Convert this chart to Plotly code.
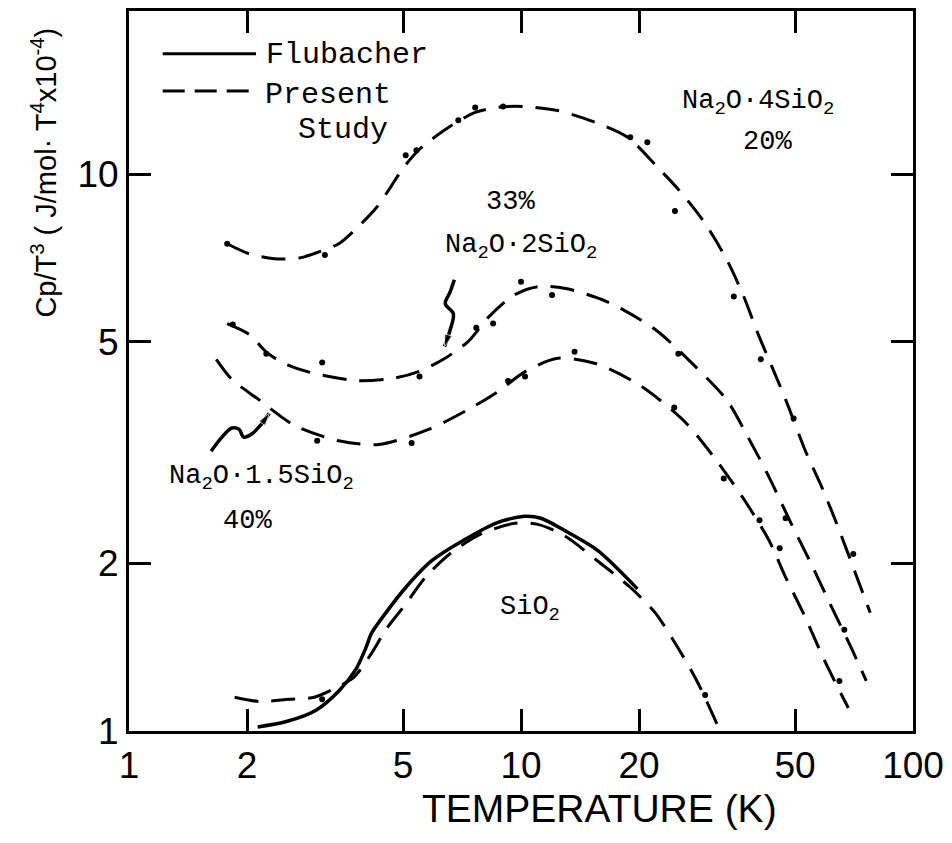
import plotly.graph_objects as go

# ---------------- data: T (K) vs Cp/T^3 (J/mol·K^4 x10^-4) ----------------
# Na2O·4SiO2 (20 %) present study
n4_T = [1.78, 2.03, 2.35, 2.72, 3.05, 3.43, 3.86, 4.29, 4.65, 5.02, 5.48, 5.87, 6.72, 7.64,
        8.74, 10.1, 12.4, 15.7, 18.7, 22.3, 25.3, 29.3, 33.5, 37.0, 40.0, 43.6, 47.3, 53.2,
        58.8, 64.9, 71.7, 77.8]
n4_V = [7.50, 7.19, 7.05, 7.07, 7.25, 7.50, 8.07, 8.73, 9.48, 10.29, 11.04, 11.50, 12.29, 12.91,
        13.18, 13.23, 13.01, 12.34, 11.65, 10.29, 9.36, 8.21, 7.02, 6.03, 5.22, 4.52, 3.94, 3.18,
        2.72, 2.29, 1.90, 1.63]

# Na2O·2SiO2 (33 %) present study
n2_T = [1.78, 2.03, 2.24, 2.49, 2.88, 3.79, 4.73, 5.48, 6.34, 7.34, 8.25, 9.54, 11.04, 13.01,
        16.6, 22.0, 27.7, 33.5, 37.7, 42.9, 49.0, 55.1, 61.5, 69.6, 76.0]
n2_V = [5.39, 5.15, 4.79, 4.57, 4.41, 4.26, 4.30, 4.42, 4.65, 5.01, 5.53, 6.05, 6.28, 6.23,
        5.90, 5.26, 4.53, 3.93, 3.40, 2.86, 2.35, 1.99, 1.69, 1.41, 1.23]

# Na2O·1.5SiO2 (40 %) present study
n15_T = [1.67, 1.83, 2.15, 2.64, 3.43, 4.34, 5.81, 7.34, 8.74, 10.24, 12.42, 15.5, 20.05,
         26.1, 31.1, 37.0, 42.9, 47.3, 52.9, 59.4, 68.4]
n15_V = [4.65, 4.28, 3.93, 3.54, 3.32, 3.27, 3.48, 3.78, 4.07, 4.42, 4.67, 4.57, 4.18,
         3.60, 3.10, 2.61, 2.20, 1.89, 1.61, 1.34, 1.10]

# SiO2 present study
si_T = [1.86, 2.15, 2.56, 2.97, 3.33, 3.75, 4.16, 4.52, 5.08, 5.71, 6.64, 7.91, 9.65, 11.04,
        12.93, 15.68, 19.02, 22.0, 25.0, 28.1, 31.6]
si_V = [1.15, 1.13, 1.14, 1.15, 1.19, 1.25, 1.38, 1.52, 1.69, 1.89, 2.09, 2.26, 2.36, 2.35,
        2.24, 2.02, 1.81, 1.63, 1.42, 1.23, 1.03]

# SiO2 Flubacher
fl_T = [2.13, 2.52, 3.00, 3.43, 3.79, 4.02, 4.16, 4.52, 5.08, 5.91, 7.21, 8.74, 10.24, 11.24,
        12.93, 15.68, 19.81]
fl_V = [1.017, 1.04, 1.09, 1.18, 1.29, 1.41, 1.50, 1.63, 1.81, 2.02, 2.21, 2.37, 2.43, 2.41,
        2.29, 2.11, 1.80]

# measured points (dots)
pt_T = [1.78, 3.16, 5.08, 5.41, 6.92, 7.64, 9.00, 19.0, 21.0, 24.7, 34.9, 40.9, 49.6, 70.4,
        1.84, 2.24, 3.11, 5.51, 7.69, 8.49, 10.0, 12.0, 25.2, 47.3, 66.8,
        3.02, 5.26, 9.27, 10.24, 13.7, 24.6, 32.9, 40.6, 45.7, 64.9,
        3.11, 29.5]
pt_V = [7.50, 7.16, 10.81, 11.04, 12.50, 13.18, 13.23, 11.65, 11.41, 8.59, 6.03, 4.65, 3.64, 2.08,
        5.37, 4.76, 4.59, 4.33, 5.30, 5.39, 6.41, 6.07, 4.76, 2.41, 1.52,
        3.32, 3.29, 4.25, 4.33, 4.80, 3.81, 2.84, 2.39, 2.13, 1.23,
        1.14, 1.16]

# hand-drawn pointer arrows
arr1_T = [6.76, 6.60, 6.41, 6.72, 6.60, 6.38]
arr1_V = [6.46, 6.15, 5.85, 5.62, 5.26, 4.90]
arr2_T = [1.62, 1.72, 1.83, 1.91, 1.96, 2.05, 2.18, 2.28]
arr2_V = [3.18, 3.36, 3.50, 3.48, 3.37, 3.41, 3.56, 3.72]

x_ticks = [1, 2, 5, 10, 20, 50, 100]
y_ticks = [1, 2, 5, 10]

AX_FONT = "Liberation Sans, Arial, sans-serif"
MONO = "Liberation Mono, DejaVu Sans Mono, monospace"
DASH = "24px,13px"

fig = go.Figure()


def curve(T, V, dash, width=3.0):
    fig.add_trace(go.Scatter(
        x=T, y=V, mode="lines",
        line=dict(color="black", width=width, dash=dash, shape="spline", smoothing=0.8),
        hoverinfo="skip", showlegend=False))


curve(fl_T, fl_V, "solid", 3.5)
curve(si_T, si_V, DASH)
curve(n15_T, n15_V, DASH)
curve(n2_T, n2_V, DASH)
curve(n4_T, n4_V, DASH)

fig.add_trace(go.Scatter(x=pt_T, y=pt_V, mode="markers",
                         marker=dict(color="black", size=6),
                         hoverinfo="skip", showlegend=False))

for T, V in ((arr1_T, arr1_V), (arr2_T, arr2_V)):
    n = len(T)
    fig.add_trace(go.Scatter(
        x=T, y=V, mode="lines+markers",
        line=dict(color="black", width=3.5, shape="spline", smoothing=1.0),
        marker=dict(color="black", symbol=["circle"] * (n - 1) + ["arrow"],
                    size=[0] * (n - 1) + [13], angleref="previous"),
        hoverinfo="skip", showlegend=False))

# legend lines (paper coordinates)
fig.add_shape(type="line", xref="paper", yref="paper", x0=0.043, x1=0.162, y0=0.9405, y1=0.9405,
              line=dict(color="black", width=3))
fig.add_shape(type="line", xref="paper", yref="paper", x0=0.043, x1=0.162, y0=0.889, y1=0.889,
              line=dict(color="black", width=3, dash="22px,10px"))


def label(text, x, y, size=27, xanchor="left"):
    fig.add_annotation(text=text, xref="paper", yref="paper", x=x, y=y, showarrow=False,
                       xanchor=xanchor, yanchor="middle",
                       font=dict(family=MONO, size=size, color="black"))


label("Flubacher", 0.1726, 0.939, 30)
label("Present", 0.1713, 0.884, 30)
label("Study", 0.2132, 0.835, 30)
label("Na<sub>2</sub>O·4SiO<sub>2</sub>", 0.703, 0.872)
label("20%", 0.8147, 0.8174, xanchor="center")
label("33%", 0.486, 0.7344, xanchor="center")
label("Na<sub>2</sub>O·2SiO<sub>2</sub>", 0.401, 0.672)
label("Na<sub>2</sub>O·1.5SiO<sub>2</sub>", 0.0482, 0.352)
label("40%", 0.151, 0.2918, xanchor="center")
label("SiO<sub>2</sub>", 0.4708, 0.170)

# axis titles
fig.add_annotation(text="TEMPERATURE (K)", xref="paper", yref="paper", x=0.6003, y=-0.108,
                   showarrow=False, xanchor="center", yanchor="middle",
                   font=dict(family=AX_FONT, size=39, color="black"))
fig.add_annotation(text="Cp/T<sup>3</sup> ( J/mol· T<sup>4</sup>x10<sup>-4</sup>)",
                   xref="paper", yref="paper", x=-0.108, y=0.776, textangle=-90,
                   showarrow=False, xanchor="center", yanchor="middle",
                   font=dict(family=AX_FONT, size=29, color="black"))

axis_common = dict(type="log", showgrid=False, zeroline=False, showline=True, linewidth=3,
                   linecolor="black", mirror="allticks", ticks="inside", ticklen=22,
                   tickwidth=2.5, tickcolor="black",
                   tickfont=dict(family=AX_FONT, size=37, color="black"))

fig.update_xaxes(range=[0, 2], tickvals=x_ticks, ticktext=[str(v) for v in x_ticks],
                 **axis_common)
fig.update_yaxes(range=[0, 1.293], tickvals=y_ticks, ticktext=[str(v) for v in y_ticks],
                 **axis_common)

fig.update_layout(width=952, height=843, margin=dict(l=129, r=35, t=8, b=112),
                  paper_bgcolor="white", plot_bgcolor="white", showlegend=False)

fig.write_html("out.html")
